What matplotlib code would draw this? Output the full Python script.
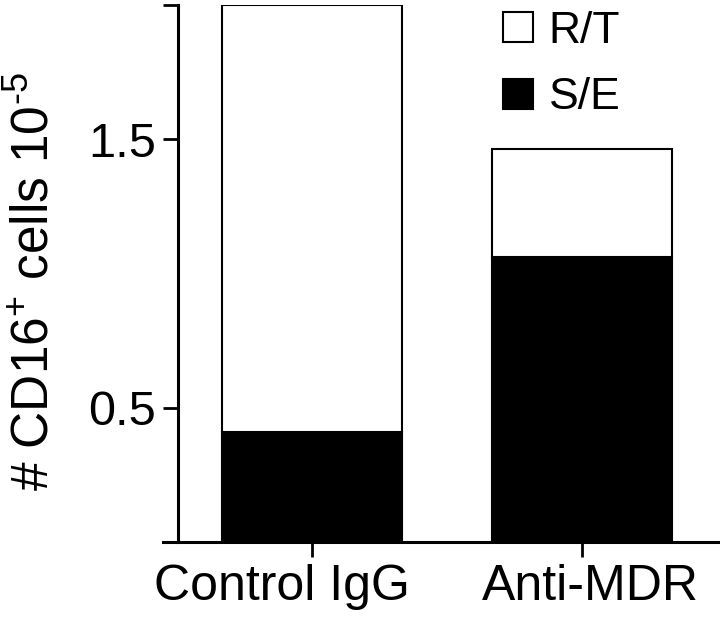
import matplotlib
matplotlib.use("Agg")
import matplotlib.pyplot as plt
import matplotlib.transforms as mtransforms
from matplotlib.patches import Patch

plt.rcParams["font.family"] = ["Liberation Sans", "DejaVu Sans"]
plt.rcParams["mathtext.default"] = "regular"

# data (units of 10^5 cells)
groups = ["Control IgG", "Anti-MDR"]
se_values = [0.41, 1.063]   # S/E, black, bottom
rt_values = [1.59, 0.40]    # R/T, white, stacked on top
ytick_values = [0.5, 1.5, 2.0]
ytick_labels = ["0.5", "1.5", ""]

fig = plt.figure(figsize=(7.2, 6.26), dpi=100)
ax = fig.add_axes([163 / 720, 1 - 542 / 626, 557 / 720, 537 / 626])

x = list(range(len(groups)))
ax.bar(x, se_values, width=0.67, color="black", edgecolor="black", linewidth=1.5)
ax.bar(x, rt_values, width=0.67, bottom=se_values, color="white",
       edgecolor="black", linewidth=1.5)

ax.set_xlim(-0.552, 1.511)
ax.set_ylim(0, 2.0)

for s in ["top", "right"]:
    ax.spines[s].set_visible(False)
ax.spines["left"].set_position(("data", -0.496))
ax.spines["left"].set_linewidth(2.2)
ax.spines["bottom"].set_linewidth(2.2)

ax.set_xticks(x)
ax.set_xticklabels(groups, fontsize=36)
ax.set_yticks(ytick_values)
ax.set_yticklabels(ytick_labels, fontsize=35)
ax.tick_params(axis="both", direction="out", length=11, width=2, pad=5)

# the original labels sit a little off their ticks
for lab, dx in zip(ax.get_xticklabels(), [-30, 8]):
    lab.set_transform(lab.get_transform()
                      + mtransforms.ScaledTranslation(dx / 100, 0, fig.dpi_scale_trans))

ax.set_ylabel("# CD16$^{+}$ cells 10$^{\u20105}$", fontsize=37)
ax.yaxis.set_label_coords(-0.185, 0.484)

handles = [Patch(facecolor="white", edgecolor="black", linewidth=1.5, label="R/T"),
           Patch(facecolor="black", edgecolor="black", linewidth=1.5, label="S/E")]
fig.legend(handles=handles, loc="upper left", bbox_to_anchor=(0.692, 0.99),
           frameon=False, fontsize=32, handlelength=0.68, handleheight=0.66,
           handletextpad=0.35, labelspacing=0.58, borderpad=0.1, borderaxespad=0)

fig.savefig("out.png", dpi=100)
